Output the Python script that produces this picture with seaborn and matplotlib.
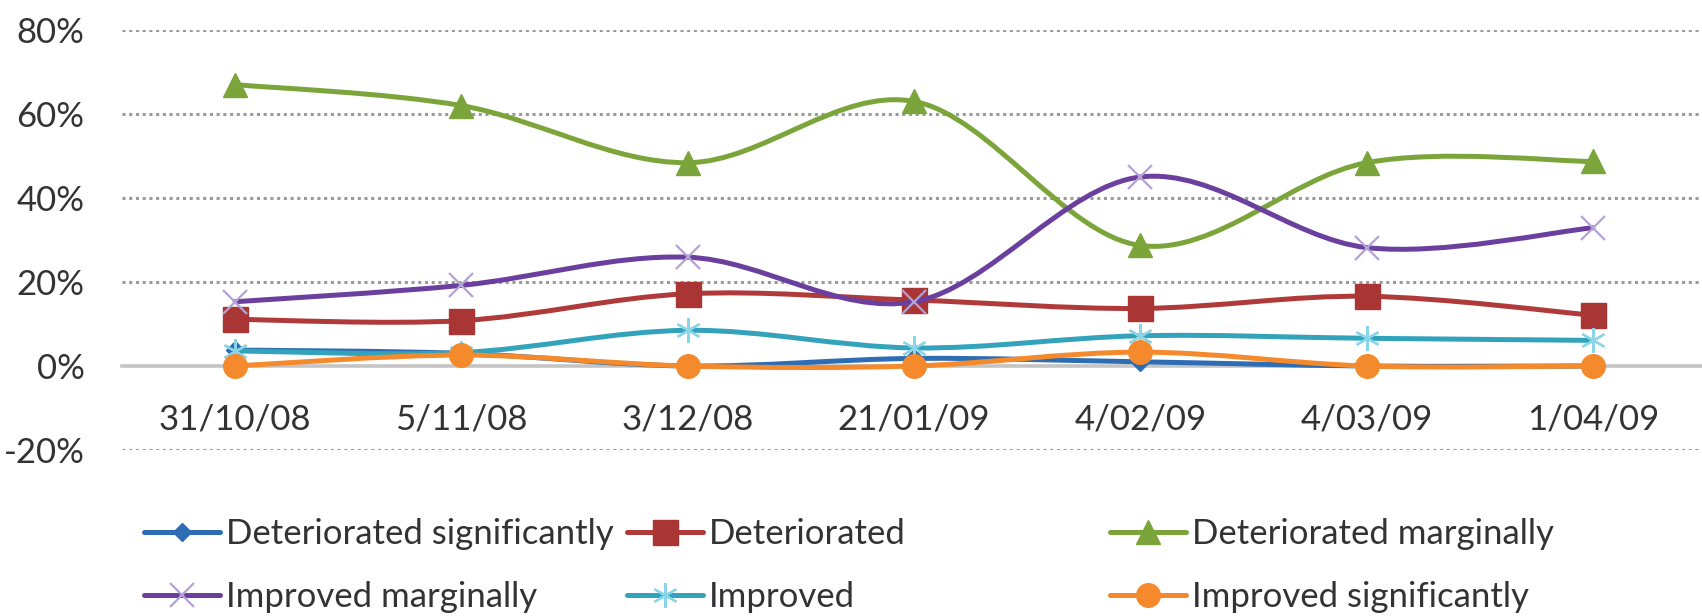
import numpy as np
import pandas as pd
import seaborn as sns
import matplotlib.pyplot as plt
from matplotlib.path import Path
from matplotlib.patches import PathPatch
from matplotlib.lines import Line2D

# survey dates (category axis)
dates = ['31/10/08', '5/11/08', '3/12/08', '21/01/09', '4/02/09', '4/03/09', '1/04/09']

# share of responses, in percent
det_sig = [3.8, 3.0, 0.0, 1.8, 1.0, 0.0, 0.0]
det = [11.1, 10.8, 17.2, 15.7, 13.7, 16.6, 12.1]
det_marg = [67.0, 62.0, 48.4, 63.0, 28.7, 48.4, 48.7]
imp_marg = [15.3, 19.2, 25.9, 15.3, 45.0, 28.2, 32.9]
imp = [3.6, 3.2, 8.5, 4.3, 7.2, 6.6, 6.1]
imp_sig = [0.0, 2.6, 0.0, 0.0, 3.3, 0.0, 0.0]

names = ['Deteriorated significantly', 'Deteriorated', 'Deteriorated marginally',
         'Improved marginally', 'Improved', 'Improved significantly']
series = [det_sig, det, det_marg, imp_marg, imp, imp_sig]

# line colour, marker, marker size, marker face, marker edge, edge width
styles = [
    ('#2E6DB4', 'D', 9, '#2E6DB4', '#2E6DB4', 1),
    ('#B0393A', 's', 18, '#A93535', '#A93535', 1),
    ('#7BA53A', '^', 17, '#7BA53A', '#7BA53A', 1),
    ('#6A3F9E', 'x', 17, 'none', '#B3A2D8', 1.6),
    ('#33A3BC', (6, 2, 0), 18, 'none', '#8AD6E8', 1.6),
    ('#F48A2C', 'o', 17, '#F48A2C', '#F48A2C', 1),
]

sns.set_style('white')
plt.rcParams['font.family'] = ['Lato', 'DejaVu Sans']
FS = 25
TXT = '#333333'


def smooth_path(ys):
    # Excel-style smoothed line: cubic bezier through each point
    pts = np.column_stack([np.arange(len(ys), dtype=float), np.asarray(ys, float)])
    ext = np.vstack([pts[0], pts, pts[-1]])
    verts = [pts[0]]
    codes = [Path.MOVETO]
    for i in range(len(pts) - 1):
        p0, p1, p2, p3 = ext[i], ext[i + 1], ext[i + 2], ext[i + 3]
        verts += [p1 + (p2 - p0) / 6, p2 - (p3 - p1) / 6, p2]
        codes += [Path.CURVE4] * 3
    return Path(verts, codes)


fig = plt.figure(figsize=(17.02, 6.16), dpi=100)
ax = fig.add_axes([122 / 1702, 166 / 616, 1584 / 1702, 420 / 616])

for k, (name, vals) in enumerate(zip(names, series)):
    col, mk, ms, mfc, mec, mew = styles[k]
    ax.add_patch(PathPatch(smooth_path(vals), facecolor='none', edgecolor=col,
                           lw=3.6, zorder=3 + 2 * k, capstyle='round'))
    df = pd.DataFrame({'date': dates, 'value': vals})
    sns.lineplot(data=df, x='date', y='value', ax=ax, marker=mk, markersize=ms,
                 markerfacecolor=mfc, markeredgecolor=mec, markeredgewidth=mew,
                 linestyle='', color=col, zorder=4 + 2 * k, sort=False)

ax.set_xlim(-0.5, 6.5)
ax.set_ylim(-20, 80)
ax.set_yticks([-20, 0, 20, 40, 60, 80])
ax.set_yticklabels([f'{v}%' for v in [-20, 0, 20, 40, 60, 80]])
ax.set_xlabel('')
ax.set_ylabel('')

for v in [-20, 20, 40, 60, 80]:
    ax.axhline(v, color='#9A9A9A', lw=2.2, ls=(0, (1, 1.2)), zorder=1)

for s in ['top', 'right', 'left']:
    ax.spines[s].set_visible(False)
ax.spines['bottom'].set_position(('data', 0))
ax.spines['bottom'].set_color('#C4C4C4')
ax.spines['bottom'].set_linewidth(2.6)
ax.spines['bottom'].set_zorder(2)

ax.tick_params(axis='x', length=0, pad=27, labelsize=FS, labelcolor=TXT)
ax.tick_params(axis='y', length=0, pad=27, labelsize=FS, labelcolor=TXT)
ax.grid(False)

# legend in three evenly spaced columns, like Excel
handles = []
for k, name in enumerate(names):
    col, mk, ms, mfc, mec, mew = styles[k]
    handles.append(Line2D([], [], color=col, lw=3.6, marker=mk, markersize=ms,
                          markerfacecolor=mfc, markeredgecolor=mec, markeredgewidth=mew))

col_x = [144, 627, 1110]
for c in range(3):
    fig.legend([handles[c], handles[c + 3]], [names[c], names[c + 3]],
               loc='upper left', bbox_to_anchor=(col_x[c] / 1702, 1 - 518 / 616),
               frameon=False, fontsize=FS, handlelength=2.2, handletextpad=0.17,
               labelspacing=0.9, borderpad=0, borderaxespad=0, labelcolor=TXT)

fig.savefig('out.png', dpi=100)
